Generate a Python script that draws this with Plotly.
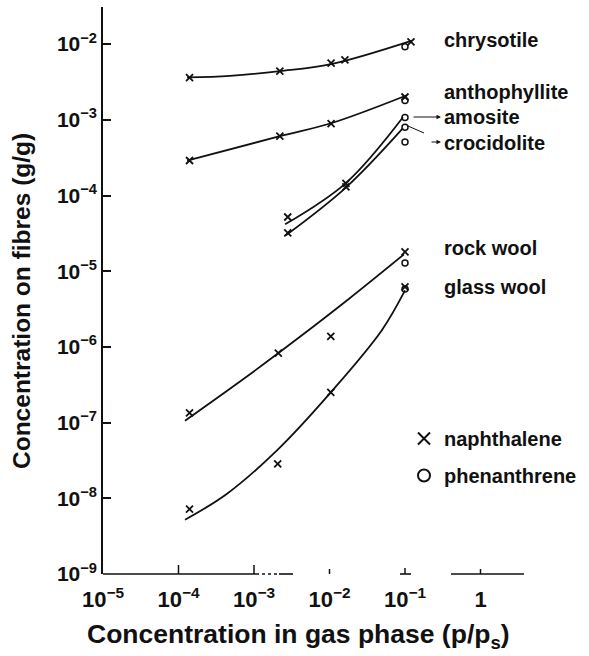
import math
import plotly.graph_objects as go

# ---------------- data ----------------
# markers: naphthalene (x) and phenanthrene (o)
chrys_naph_x = [1.4e-4, 2.2e-3, 1.05e-2, 1.6e-2, 0.12]
chrys_naph_y = [3.6e-3, 4.4e-3, 5.6e-3, 6.2e-3, 1.07e-2]
chrys_phen_x = [0.1]
chrys_phen_y = [9.2e-3]

antho_naph_x = [1.4e-4, 2.2e-3, 1.05e-2, 0.1]
antho_naph_y = [2.9e-4, 6.1e-4, 8.9e-4, 2.0e-3]
antho_phen_x = [0.1]
antho_phen_y = [1.8e-3]

amos_naph_x = [2.8e-3, 1.65e-2]
amos_naph_y = [5.2e-5, 1.45e-4]
amos_phen_x = [0.1]
amos_phen_y = [1.07e-3]

croc_naph_x = [2.8e-3, 1.65e-2]
croc_naph_y = [3.2e-5, 1.3e-4]
croc_phen_x = [0.1, 0.1]
croc_phen_y = [8.0e-4, 5.1e-4]

rock_naph_x = [1.4e-4, 2.1e-3, 1.04e-2, 0.1]
rock_naph_y = [1.34e-7, 8.3e-7, 1.38e-6, 1.8e-5]
rock_phen_x = [0.1]
rock_phen_y = [1.28e-5]

glass_naph_x = [1.4e-4, 2.06e-3, 1.04e-2, 0.1]
glass_naph_y = [7.2e-9, 2.85e-8, 2.5e-7, 6.2e-6]
glass_phen_x = [0.1]
glass_phen_y = [5.8e-6]

# fitted curves as drawn in the picture
chrys_curve_x = [1.3e-4, 4.8e-4, 2.2e-3, 1.05e-2, 0.124]
chrys_curve_y = [3.63e-3, 3.81e-3, 4.39e-3, 5.43e-3, 1.11e-2]
antho_curve_x = [1.3e-4, 2.2e-3, 1.05e-2, 0.106]
antho_curve_y = [2.88e-4, 6.07e-4, 9.0e-4, 2.11e-3]
amos_curve_x = [2.58e-3, 1.66e-2, 0.094]
amos_curve_y = [4.16e-5, 1.47e-4, 1.08e-3]
croc_curve_x = [2.65e-3, 1.66e-2, 0.094]
croc_curve_y = [2.98e-5, 1.28e-4, 7.74e-4]
rock_curve_x = [1.22e-4, 8.85e-4, 4.06e-3, 1.87e-2, 0.097]
rock_curve_y = [1.06e-7, 4.36e-7, 1.36e-6, 4.43e-6, 1.67e-5]
glass_curve_x = [1.22e-4, 4.35e-4, 2.0e-3, 1.04e-2, 4.91e-2, 0.1]
glass_curve_y = [5.21e-9, 1.14e-8, 4.27e-8, 2.51e-7, 1.65e-6, 5.57e-6]

fibre_labels = ["chrysotile", "anthophyllite", "amosite", "crocidolite", "rock wool", "glass wool"]
x_tick_vals = [1e-5, 1e-4, 1e-3, 1e-2, 1e-1, 1]
x_tick_text = ["10<sup>−5</sup>", "10<sup>−4</sup>", "10<sup>−3</sup>", "10<sup>−2</sup>", "10<sup>−1</sup>", "1"]
y_tick_vals = [1e-9, 1e-8, 1e-7, 1e-6, 1e-5, 1e-4, 1e-3, 1e-2]
y_tick_text = ["10<sup>−9</sup>", "10<sup>−8</sup>", "10<sup>−7</sup>", "10<sup>−6</sup>",
               "10<sup>−5</sup>", "10<sup>−4</sup>", "10<sup>−3</sup>", "10<sup>−2</sup>"]
x_title = "Concentration in gas phase (p/p<sub>s</sub>)"
y_title = "Concentration on fibres (g/g)"

# ---------------- layout geometry ----------------
W, H = 589, 656
L, R, T, B = 103, 33, 7, 82
PW, PH = W - L - R, H - T - B
X_RANGE = [-5, 1]


def px(x):
    return (x - L) / PW


def py(y):
    return (H - B - y) / PH


FONT = "Liberation Sans, Arial, sans-serif"
BLACK = "#111"

fig = go.Figure()

curves = [(chrys_curve_x, chrys_curve_y), (antho_curve_x, antho_curve_y),
          (amos_curve_x, amos_curve_y), (croc_curve_x, croc_curve_y),
          (rock_curve_x, rock_curve_y), (glass_curve_x, glass_curve_y)]
for cx, cy in curves:
    fig.add_trace(go.Scatter(x=cx, y=cy, mode="lines", line=dict(color=BLACK, width=1.8, shape="spline"),
                             showlegend=False, hoverinfo="skip"))

naph = [(chrys_naph_x, chrys_naph_y), (antho_naph_x, antho_naph_y), (amos_naph_x, amos_naph_y),
        (croc_naph_x, croc_naph_y), (rock_naph_x, rock_naph_y), (glass_naph_x, glass_naph_y)]
phen = [(chrys_phen_x, chrys_phen_y), (antho_phen_x, antho_phen_y), (amos_phen_x, amos_phen_y),
        (croc_phen_x, croc_phen_y), (rock_phen_x, rock_phen_y), (glass_phen_x, glass_phen_y)]

for i, (nx, ny) in enumerate(naph):
    fig.add_trace(go.Scatter(x=nx, y=ny, mode="markers", name="naphthalene", legendgroup="naph",
                             showlegend=(i == 0),
                             marker=dict(symbol="x-thin", size=7, line=dict(color=BLACK, width=1.8))))
for i, (qx, qy) in enumerate(phen):
    fig.add_trace(go.Scatter(x=qx, y=qy, mode="markers", name="phenanthrene", legendgroup="phen",
                             showlegend=(i == 0),
                             marker=dict(symbol="circle-open", size=6, color=BLACK, line=dict(color=BLACK, width=1.5))))

# fibre labels
label_y = [40, 92, 117, 143, 248, 287]
for txt, yy in zip(fibre_labels, label_y):
    fig.add_annotation(x=px(442), y=py(yy), xref="paper", yref="paper", text=txt, showarrow=False,
                       xanchor="left", yanchor="middle", font=dict(family=FONT, size=20, color=BLACK, weight="bold"))

# arrows to amosite / crocidolite
fig.add_annotation(x=px(441), y=py(117), xref="paper", yref="paper", ax=-29, ay=0, text="",
                   showarrow=True, arrowhead=2, arrowsize=0.9, arrowwidth=1, arrowcolor=BLACK)
fig.add_annotation(x=px(441), y=py(142), xref="paper", yref="paper", ax=-11, ay=0, text="",
                   showarrow=True, arrowhead=2, arrowsize=0.9, arrowwidth=1, arrowcolor=BLACK)
fig.add_shape(type="line", xref="paper", yref="paper", x0=px(408), y0=py(126), x1=px(424), y1=py(133),
              line=dict(color=BLACK, width=1))

# broken x-axis line
for a, b, d in [(103, 256, "solid"), (256, 279, "dot"), (279, 293, "solid"), (400, 411, "solid"), (451, 524, "solid")]:
    fig.add_shape(type="line", xref="paper", yref="paper", x0=px(a), x1=px(b), y0=0, y1=0,
                  line=dict(color=BLACK, width=1.6, dash=d))

# x ticks drawn individually (different lengths as in the original)
x_tick_len = [0, 9, 9, 5, 6, 5]
for tv, tl in zip(x_tick_vals, x_tick_len):
    if tl:
        xp = (math.log10(tv) - X_RANGE[0]) / (X_RANGE[1] - X_RANGE[0])
        fig.add_shape(type="line", xref="paper", yref="paper",
                      x0=xp, x1=xp, y0=0, y1=tl / PH,
                      line=dict(color=BLACK, width=1.5))

# axis titles
fig.add_annotation(x=px(298), y=py(636), xref="paper", yref="paper", text=x_title, showarrow=False,
                   xanchor="center", yanchor="middle", font=dict(family=FONT, size=26.5, color=BLACK, weight="bold"))
fig.add_annotation(x=px(21), y=py(301), xref="paper", yref="paper", text=y_title, showarrow=False, textangle=-90,
                   xanchor="center", yanchor="middle", font=dict(family=FONT, size=24.5, color=BLACK, weight="bold"))

fig.update_layout(
    width=W, height=H, margin=dict(l=L, r=R, t=T, b=B),
    paper_bgcolor="white", plot_bgcolor="white",
    font=dict(family=FONT, color=BLACK),
    legend=dict(x=px(404), y=py(419), xanchor="left", yanchor="top", bgcolor="rgba(0,0,0,0)",
                font=dict(family=FONT, size=20, color=BLACK, weight="bold"), tracegroupgap=8, itemsizing="constant"),
)
fig.update_xaxes(type="log", range=X_RANGE, tickvals=x_tick_vals, ticktext=x_tick_text,
                 showgrid=False, zeroline=False, showline=False, ticks="",
                 tickfont=dict(family=FONT, size=22, color=BLACK, weight="bold"), ticklabelstandoff=10)
fig.update_yaxes(type="log", range=[-9, -1.51], tickvals=y_tick_vals, ticktext=y_tick_text,
                 showgrid=False, zeroline=False, showline=True, linecolor=BLACK, linewidth=1.6,
                 ticks="inside", ticklen=8, tickwidth=1.5, tickcolor=BLACK,
                 tickfont=dict(family=FONT, size=21, color=BLACK, weight="bold"), ticklabelstandoff=0)

fig.write_html("out.html", config={"displayModeBar": False},
               post_script="document.body.style.margin='0';")
